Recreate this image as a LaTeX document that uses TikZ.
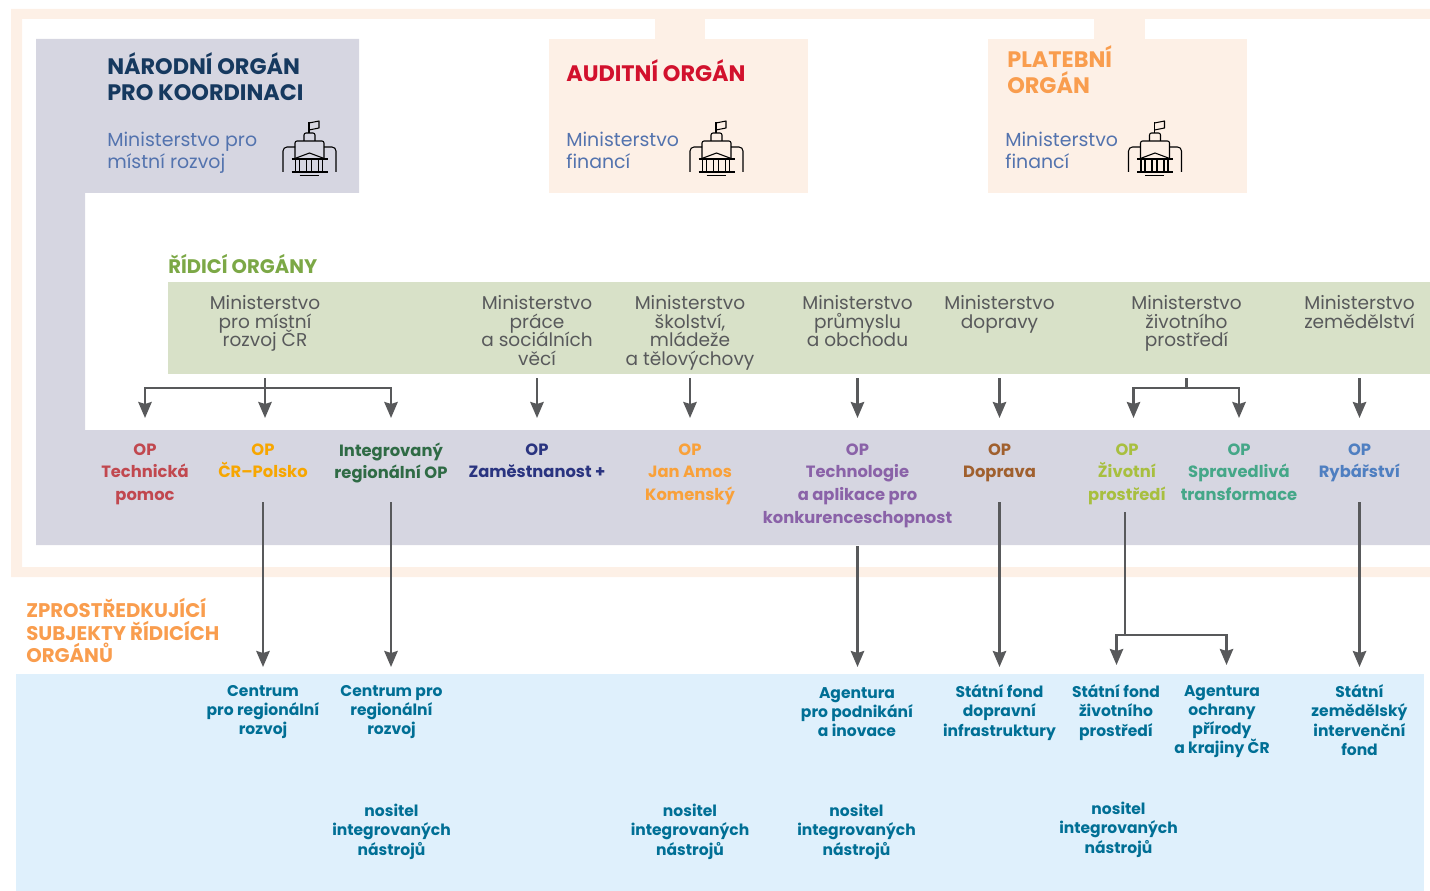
\documentclass[tikz,border=0pt]{standalone}
\usepackage{fontspec}
\setmainfont{Poppins}
\usetikzlibrary{arrows.meta}
\definecolor{peach}{HTML}{FDF0E6}
\definecolor{greyband}{HTML}{D6D6E1}
\definecolor{greenband}{HTML}{D8E1C8}
\definecolor{blueband}{HTML}{DFF0FC}
\definecolor{linegrey}{HTML}{58595B}
\definecolor{navy}{HTML}{16395F}
\definecolor{minblue}{HTML}{5373AE}
\definecolor{audred}{HTML}{D2112D}
\definecolor{orangeh}{HTML}{F99D4E}
\definecolor{greenh}{HTML}{7CA846}
\definecolor{teal}{HTML}{006F95}
\definecolor{opa}{HTML}{C1484F}
\definecolor{opb}{HTML}{F7A600}
\definecolor{opc}{HTML}{2F6B45}
\definecolor{opd}{HTML}{2A3480}
\definecolor{ope}{HTML}{F9A13A}
\definecolor{opf}{HTML}{8A62A8}
\definecolor{opg}{HTML}{A0602E}
\definecolor{oph}{HTML}{A8BF3F}
\definecolor{opi}{HTML}{45A788}
\definecolor{opj}{HTML}{4F7FC1}
\newcommand{\tightlines}{\lineskiplimit=-100pt\relax}
\tikzset{
  x=0.75pt,y=-0.75pt,
  head/.style={anchor=north west,inner sep=0pt,align=left,font=\fontsize{16.8}{19.6}\selectfont\bfseries\tightlines},
  subhead/.style={anchor=north west,inner sep=0pt,align=left,text=minblue,font=\fontsize{14.2}{16.5}\selectfont\tightlines},
  mintext/.style={anchor=north,inner sep=0pt,align=center,text=linegrey,font=\fontsize{13.9}{13.9}\selectfont\tightlines},
  optext/.style={anchor=north,inner sep=0pt,align=center,font=\fontsize{12.25}{16.9}\selectfont\bfseries\tightlines},
  agtext/.style={anchor=north,inner sep=0pt,align=center,text=teal,font=\fontsize{11.65}{14.4}\selectfont\bfseries\tightlines},
  arr/.style={draw=linegrey,line width=2pt,-{Stealth[length=12pt,width=10pt,inset=1.5pt]}},
  stem/.style={draw=linegrey,line width=2pt},
  pics/govicon/.style={code={
    \begin{scope}[line width=0.8pt,draw=black,line join=round]
      \draw[rounded corners=3pt] (-26.5,-4) -- (-26.5,-29) -- (-14.5,-29);
      \draw[rounded corners=3pt] (26.5,-4) -- (26.5,-29) -- (14.5,-29);
      \draw[rounded corners=1.5pt] (-14.5,-17) -- (-14.5,-35) -- (14.5,-35) -- (14.5,-17);
      \draw[rounded corners=1.5pt] (-5.5,-35) -- (-5.5,-43) -- (5.5,-43) -- (5.5,-35);
      \draw (-0.5,-43) -- (-0.5,-54);
      \draw (-0.5,-53) -- (9.5,-55) -- (9.5,-48) -- (-0.5,-46);
      \draw (-16,-17) -- (0,-23) -- (16,-17);
      \draw[line width=1.1pt] (-18,-17) -- (18,-17);
      \foreach \cx in {-14,-10,-3,2,9,13} \draw (\cx,-16) -- (\cx,-5);
      \draw[line width=1.1pt] (-18,-4) -- (18,-4);
      \draw (-10,-0.5) -- (9,-0.5);
    \end{scope}
  }}
}
\begin{document}
\begin{tikzpicture}
\useasboundingbox (0,0) rectangle (1430,891);
% frame
\fill[peach] (11,9) -- (1430,9) -- (1430,19) -- (22,19) -- (22,567) -- (1430,567) -- (1430,577) -- (11,577) -- cycle;
\fill[peach] (655,19) rectangle (705,39);
\fill[peach] (1094,19) rectangle (1145,39);
% organ boxes
\fill[greyband] (36,39) -- (359,39) -- (359,193) -- (85,193) -- (85,430) -- (1430,430) -- (1430,545) -- (36,545) -- cycle;
\fill[peach] (549,39) rectangle (808,193);
\fill[peach] (988,39) rectangle (1247,193);
\fill[greenband] (168,282) rectangle (1430,374);
\fill[blueband] (16,674) rectangle (1424,891);
% headings
\node[head,text=navy] (hno) at (107,52) {NÁRODNÍ ORGÁN\\PRO KOORDINACI};
\node[subhead] (sno) at (107,132) {Ministerstvo pro\\místní rozvoj};
\pic at (309.5,176) {govicon};
\node[head,text=audred] (hao) at (566,59) {AUDITNÍ ORGÁN};
\node[subhead] (sao) at (566,132) {Ministerstvo\\financí};
\pic at (716.5,176) {govicon};
\node[head,text=orangeh] (hpo) at (1007,45) {PLATEBNÍ\\ORGÁN};
\node[subhead] (spo) at (1005,132) {Ministerstvo\\financí};
\pic at (1155,176) {govicon};
\node[anchor=north west,inner sep=0pt,text=greenh,font=\fontsize{14.7}{16}\selectfont\bfseries] (hri) at (168,254) {ŘÍDICÍ ORGÁNY};
\node[anchor=north west,inner sep=0pt,align=left,text=orangeh,font=\fontsize{14.8}{16.9}\selectfont\bfseries\tightlines] (hzs) at (26,598) {ZPROSTŘEDKUJÍCÍ\\SUBJEKTY ŘÍDICÍCH\\ORGÁNŮ};
% ministries
\node[mintext] (m1) at (265,295.5) {Ministerstvo\\pro místní\\rozvoj ČR};
\node[mintext] (m2) at (537,295.5) {Ministerstvo\\práce\\a sociálních\\věcí};
\node[mintext] (m3) at (690,295.5) {Ministerstvo\\školství,\\mládeže\\a tělovýchovy};
\node[mintext] (m4) at (857.5,295.5) {Ministerstvo\\průmyslu\\a obchodu};
\node[mintext] (m5) at (999.5,295.5) {Ministerstvo\\dopravy};
\node[mintext] (m6) at (1186.5,295.5) {Ministerstvo\\životního\\prostředí};
\node[mintext] (m7) at (1359.5,295.5) {Ministerstvo\\zemědělství};
% programmes
\node[optext,text=opa] (o1) at (145,443.5) {OP\\Technická\\pomoc};
\node[optext,text=opb] (o2) at (263,443.5) {OP\\ČR–Polsko};
\node[optext,text=opc] (o3) at (391,442.5) {Integrovaný\\regionální OP};
\node[optext,text=opd] (o4) at (537,443.5) {OP\\Zaměstnanost +};
\node[optext,text=ope] (o5) at (690,443.5) {OP\\Jan Amos\\Komenský};
\node[optext,text=opf] (o6) at (857.5,443.5) {OP\\Technologie\\a aplikace pro\\konkurenceschopnost};
\node[optext,text=opg] (o7) at (999.5,443.5) {OP\\Doprava};
\node[optext,text=oph] (o8) at (1127,443.5) {OP\\Životní\\prostředí};
\node[optext,text=opi] (o9) at (1239,443.5) {OP\\Spravedlivá\\transformace};
\node[optext,text=opj] (o10) at (1359.5,443.5) {OP\\Rybářství};
% intermediate bodies
\node[agtext] (a1) at (263,685) {Centrum\\pro regionální\\rozvoj};
\node[agtext] (a2) at (391.5,685) {Centrum pro\\regionální\\rozvoj};
\node[agtext] (a3) at (857,687) {Agentura\\pro podnikání\\a inovace};
\node[agtext] (a4) at (999.5,684.5) {Státní fond\\dopravní\\infrastruktury};
\node[agtext] (a5) at (1116,684.5) {Státní fond\\životního\\prostředí};
\node[agtext] (a6) at (1222,685) {Agentura\\ochrany\\přírody\\a krajiny ČR};
\node[agtext] (a7) at (1359.5,684.5) {Státní\\zemědělský\\intervenční\\fond};
\node[agtext] (n1) at (391.5,804) {nositel\\integrovaných\\nástrojů};
\node[agtext] (n2) at (690,804) {nositel\\integrovaných\\nástrojů};
\node[agtext] (n3) at (856.5,804) {nositel\\integrovaných\\nástrojů};
\node[agtext] (n4) at (1118.5,802) {nositel\\integrovaných\\nástrojů};
% connector levels
\coordinate (up) at (0,378);
\coordinate (bar) at (0,388);
\coordinate (uptip) at (0,418);
\coordinate (lo) at (0,502);
\coordinate (lotip) at (0,667);
\coordinate (tstart) at (857.5,546);
\coordinate (zpstart) at (1125,512);
\coordinate (zpbar) at (1125,635);
\coordinate (zpl) at (1116.5,665);
\coordinate (zpr) at (1226.5,665);
\coordinate (m6l) at (1133.5,418);
\coordinate (m6r) at (1239,418);
% upper connectors
\draw[stem] (m1 |- up) -- (m1 |- bar);
\draw[arr] (m1 |- bar) -| (o1 |- uptip);
\draw[arr] (m1 |- bar) -- (m1 |- uptip);
\draw[arr] (m1 |- bar) -| (o3 |- uptip);
\draw[arr] (m2 |- up) -- (m2 |- uptip);
\draw[arr] (m3 |- up) -- (m3 |- uptip);
\draw[arr] (m4 |- up) -- (m4 |- uptip);
\draw[arr] (m5 |- up) -- (m5 |- uptip);
\draw[stem] (m6 |- up) -- (m6 |- bar);
\draw[arr] (m6 |- bar) -| (m6l);
\draw[arr] (m6 |- bar) -| (m6r);
\draw[arr] (m7 |- up) -- (m7 |- uptip);
% lower connectors
\draw[arr] (o2 |- lo) -- (o2 |- lotip);
\draw[arr] (o3 |- lo) -- (o3 |- lotip);
\draw[arr] (tstart) -- (o6 |- lotip);
\draw[arr] (o7 |- lo) -- (o7 |- lotip);
\draw[stem] (zpstart) -- (zpbar);
\draw[arr] (zpbar) -| (zpl);
\draw[arr] (zpbar) -| (zpr);
\draw[arr] (o10 |- lo) -- (o10 |- lotip);
\end{tikzpicture}
\end{document}
